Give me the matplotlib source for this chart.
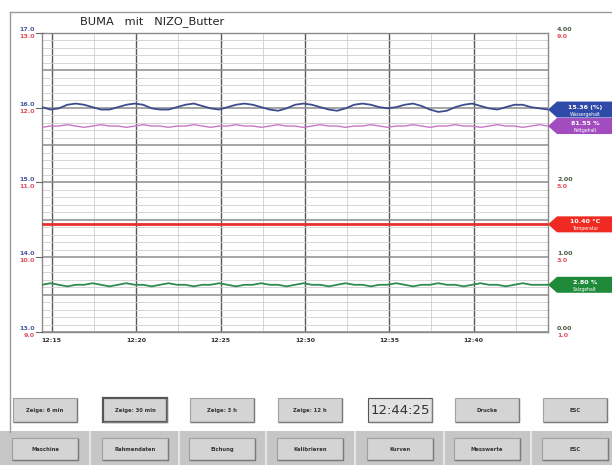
import matplotlib
matplotlib.use("Agg")
import matplotlib.pyplot as plt
from matplotlib.patches import Polygon, Rectangle
from matplotlib.lines import Line2D
import pandas as pd

# Messzeitpunkte: letzte 30 min bis 12:44:25, alle 30 s
times = pd.date_range(start="2024-01-01 12:14:25", periods=61, freq="30s")
minutes = (times.hour - 12) * 60 + times.minute + times.second / 60.0

wasser = [15.38, 15.36, 15.37, 15.40, 15.41, 15.40, 15.38, 15.36, 15.36, 15.38,
          15.40, 15.41, 15.40, 15.37, 15.36, 15.36, 15.38, 15.40, 15.41, 15.39,
          15.37, 15.36, 15.38, 15.40, 15.41, 15.40, 15.38, 15.36, 15.35, 15.37,
          15.40, 15.41, 15.40, 15.38, 15.36, 15.35, 15.37, 15.40, 15.41, 15.40,
          15.38, 15.37, 15.38, 15.40, 15.41, 15.39, 15.36, 15.34, 15.35, 15.38,
          15.40, 15.41, 15.39, 15.37, 15.36, 15.38, 15.40, 15.40, 15.38, 15.37,
          15.36]
fett = [81.54, 81.55, 81.55, 81.56, 81.55, 81.54, 81.55, 81.56, 81.55, 81.55,
        81.54, 81.55, 81.56, 81.55, 81.55, 81.54, 81.55, 81.55, 81.56, 81.55,
        81.54, 81.55, 81.55, 81.56, 81.55, 81.55, 81.54, 81.55, 81.56, 81.55,
        81.55, 81.54, 81.55, 81.56, 81.55, 81.55, 81.54, 81.55, 81.55, 81.56,
        81.55, 81.54, 81.55, 81.55, 81.56, 81.55, 81.54, 81.55, 81.55, 81.56,
        81.55, 81.55, 81.54, 81.55, 81.56, 81.55, 81.55, 81.54, 81.55, 81.56,
        81.55]
temperatur = [10.40] * 61
salz = [2.80, 2.81, 2.80, 2.79, 2.80, 2.80, 2.81, 2.80, 2.79, 2.80,
        2.81, 2.80, 2.80, 2.79, 2.80, 2.81, 2.80, 2.80, 2.79, 2.80,
        2.80, 2.81, 2.80, 2.79, 2.80, 2.80, 2.81, 2.80, 2.80, 2.79,
        2.80, 2.81, 2.80, 2.80, 2.79, 2.80, 2.81, 2.80, 2.80, 2.79,
        2.80, 2.80, 2.81, 2.80, 2.79, 2.80, 2.80, 2.81, 2.80, 2.80,
        2.79, 2.80, 2.81, 2.80, 2.80, 2.79, 2.80, 2.81, 2.80, 2.80,
        2.80]

x_ticks = [15, 20, 25, 30, 35, 40]
x_labels = ["12:15", "12:20", "12:25", "12:30", "12:35", "12:40"]
left_blue = ["17.0", "16.0", "15.0", "14.0", "13.0"]
left_red = ["13.0", "12.0", "11.0", "10.0", "9.0"]
# rechte Skala: der zweite Wert liegt unter der Wertanzeige
right_dark = ["4.00", None, "2.00", "1.00", "0.00"]
right_red = ["9.0", None, "5.0", "3.0", "1.0"]

buttons_top = ["Zeige: 6 min", "Zeige: 30 min", "Zeige: 3 h", "Zeige: 12 h",
               "12:44:25", "Drucke", "ESC"]
buttons_bottom = ["Maschine", "Rahmendaten", "Eichung", "Kalibrieren",
                  "Kurven", "Messwerte", "ESC"]

W, H = 612, 465
fig = plt.figure(figsize=(W / 100, H / 100), dpi=100)
fig.patch.set_facecolor("white")


def fx(x):
    return x / W


def fy(y):
    return 1 - y / H


# Rahmen
fig.add_artist(Line2D([fx(10), fx(10)], [fy(12), fy(432)], color="#9a9a9a", lw=1))
fig.add_artist(Line2D([fx(10), fx(612)], [fy(12), fy(12)], color="#9a9a9a", lw=1))

fig.text(fx(80), fy(22), "BUMA   mit   NIZO_Butter", fontsize=8.2,
         color="#222222", va="center", ha="left")

L, R, T, B = 42, 548, 33, 332
ax = fig.add_axes([fx(L), fy(B), fx(R - L), (B - T) / H])
ax.set_xlim(minutes[0], minutes[-1])
ax.set_ylim(0, 8)
ax.set_yticks(range(9))
ax.set_yticks([i * 0.2 for i in range(41)], minor=True)
ax.set_xticks(x_ticks)
ax.set_xticks([17.5, 22.5, 27.5, 32.5, 37.5, 42.5], minor=True)
ax.grid(True, which="minor", color="#cfcfcf", lw=0.6)
ax.grid(True, axis="y", which="major", color="#8c8c8c", lw=1.1)
ax.grid(True, axis="x", which="major", color="#5a5a5a", lw=1.0)
ax.set_xticklabels(x_labels, fontsize=4.5, fontweight="bold", color="#333333")
ax.tick_params(axis="x", length=0, pad=4)
ax.tick_params(axis="y", which="both", length=0, labelleft=False)
ax.tick_params(which="minor", length=0)
for s in ax.spines.values():
    s.set_color("#8a8a8a")
    s.set_linewidth(1.0)
ax.set_axisbelow(True)

# Skalenbeschriftung links/rechts
for i in range(5):
    y = T + i * (B - T) / 4
    fig.add_artist(Line2D([fx(36), fx(L)], [fy(y), fy(y)], color="#666666", lw=0.8))
    fig.text(fx(35), fy(y - 3.5), left_blue[i], fontsize=4.6, fontweight="bold",
             color="#4a5aa0", ha="right", va="center")
    fig.text(fx(35), fy(y + 3.5), left_red[i], fontsize=4.6, fontweight="bold",
             color="#e05060", ha="right", va="center")
    if right_dark[i] is not None:
        fig.text(fx(557), fy(y - 3.5), right_dark[i], fontsize=4.6, fontweight="bold",
                 color="#4a5a40", ha="left", va="center")
        fig.text(fx(557), fy(y + 3.5), right_red[i], fontsize=4.6, fontweight="bold",
                 color="#e05060", ha="left", va="center")

series = [
    (wasser, (13.5, 16.0), "#3c4c8c", 1.3, "#2f4aa8", "15.36 (%)", "Wassergehalt"),
    (fett, (80.0, 82.25), "#c878c8", 1.0, "#a24cc0", "81.55 %", "Fettgehalt"),
    (temperatur, (9.5, 12.0), "#e8312a", 2.0, "#ee2a22", "10.40 °C", "Temperatur"),
    (salz, (2.5, 4.4), "#2e8a50", 1.3, "#1f8a3a", "2.80 %", "Salzgehalt"),
]

for vals, lim, col, lw, mcol, txt, name in series:
    tw = fig.add_axes(ax.get_position(), sharex=ax)
    tw.set_ylim(*lim)
    tw.patch.set_alpha(0)
    tw.axis("off")
    tw.plot(minutes, vals, color=col, lw=lw)
    # Wertanzeige am rechten Rand
    _, yd = tw.transData.transform((minutes[-1], vals[-1]))
    yc = H - yd
    hh = 8
    pts = [(R, yc), (R + 9, yc - hh), (W, yc - hh), (W, yc + hh), (R + 9, yc + hh)]
    fig.add_artist(Polygon([(fx(a), fy(b)) for a, b in pts], closed=True,
                           facecolor=mcol, edgecolor="none"))
    fig.text(fx(585), fy(yc - 2.5), txt, fontsize=4.6, fontweight="bold",
             color="white", ha="center", va="center")
    fig.text(fx(585), fy(yc + 4.5), name, fontsize=3.3, color="white",
             ha="center", va="center")


def button(cx, cy, w, h, label, pressed=False, clock=False):
    x0, y0 = cx - w / 2, cy - h / 2
    face = "#e2e2e2" if clock else "#d4d4d4"
    fig.add_artist(Rectangle((fx(x0), fy(y0 + h)), w / W, h / H,
                             facecolor=face,
                             edgecolor="#555555" if (pressed or clock) else "#a0a0a0",
                             lw=1.6 if pressed else 0.8))
    # 3D-Kante unten/rechts
    fig.add_artist(Line2D([fx(x0 + 1), fx(x0 + w), fx(x0 + w)],
                          [fy(y0 + h), fy(y0 + h), fy(y0 + 1)],
                          color="#7a7a7a", lw=1.0))
    if clock:
        fig.text(fx(cx), fy(cy), label, fontsize=9.5, color="#333333",
                 ha="center", va="center")
    else:
        fig.text(fx(cx), fy(cy), label, fontsize=3.8, fontweight="bold",
                 color="#333333", ha="center", va="center")


centers = [45, 135, 222, 310, 400, 487, 575]
for cx, lab in zip(centers, buttons_top):
    button(cx, 410, 64, 24, lab, pressed=(lab == "Zeige: 30 min"),
           clock=(lab == "12:44:25"))

fig.add_artist(Rectangle((0, 0), 1, (H - 431) / H, facecolor="#c6c6c6",
                         edgecolor="none"))
for k in range(1, 7):
    xs = (centers[k - 1] + centers[k]) / 2
    fig.add_artist(Line2D([fx(xs), fx(xs)], [fy(432), fy(465)],
                          color="#e6e6e6", lw=1.5))
for cx, lab in zip(centers, buttons_bottom):
    button(cx, 449, 66, 22, lab)

fig.savefig("out.png", dpi=100)
